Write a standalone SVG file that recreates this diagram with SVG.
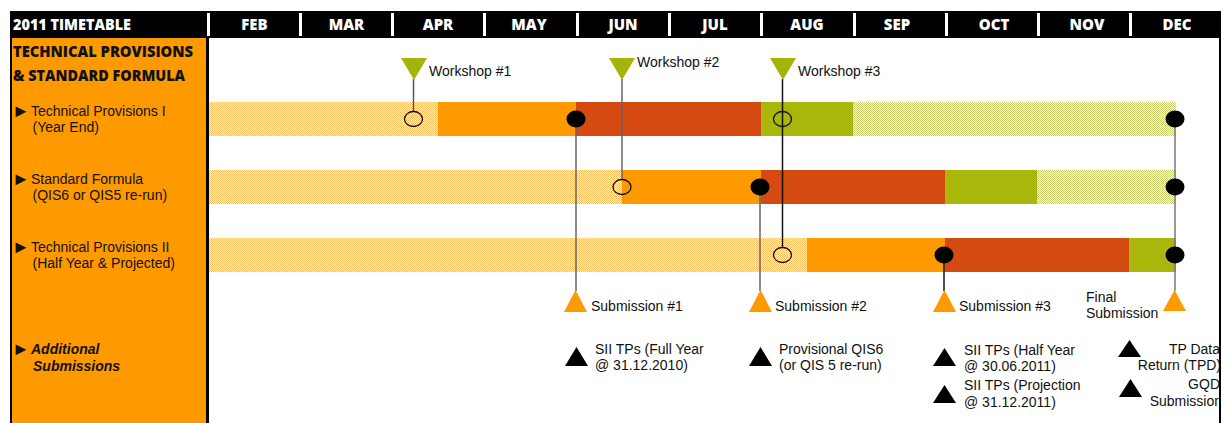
<svg xmlns="http://www.w3.org/2000/svg" width="1221" height="423" viewBox="0 0 1221 423">
<style>
.hd{font-family:"Open Sans","Liberation Sans",sans-serif;font-weight:800;font-size:15px;fill:#fff}
.mo{text-anchor:middle}
.ttl{font-family:"Open Sans","Liberation Sans",sans-serif;font-weight:800;font-size:16px;fill:#111}
.lb{font-family:"Liberation Sans",Arial,sans-serif;font-size:14px;fill:#111}
.bi{font-weight:700;font-style:italic}
.ar{font-family:"Liberation Sans","Noto Sans CJK SC",sans-serif;font-size:18px;fill:#111}
.end{text-anchor:end}
.o{fill:#FF9900}.r{fill:#D54A11}.g{fill:#A9B70B}
.ho{fill:url(#hatchO)}.hg{fill:url(#hatchG)}
.sep{fill:#fff}
.ln{stroke-width:1.5;fill:none}
.open{fill:none;stroke:#111;stroke-width:1.3}
.dot{fill:#000}
.wt{fill:#A5B40B}
.st{fill:#FF9900}
.bt{fill:#000}
</style>
<defs>
<pattern id="hatchO" patternUnits="userSpaceOnUse" x="0" y="0" width="2" height="2">
<rect width="2" height="2" fill="#fff"/><rect width="1" height="1" fill="#FFB95A"/><rect x="1" y="1" width="1" height="1" fill="#FFB95A"/>
</pattern>
<pattern id="hatchG" patternUnits="userSpaceOnUse" x="0" y="0" width="2" height="2">
<rect width="2" height="2" fill="#fff"/><rect width="1" height="1" fill="#C9D268"/><rect x="1" y="1" width="1" height="1" fill="#C9D268"/>
</pattern>
</defs>
<rect width="1221" height="423" fill="#fff"/>

<g id="header">
<rect x="10" y="11" width="1211" height="27" fill="#000"/>
<rect class="sep" x="207" y="13" width="3" height="23"/>
<rect class="sep" x="299" y="13" width="3" height="23"/>
<rect class="sep" x="391" y="13" width="3" height="23"/>
<rect class="sep" x="483" y="13" width="3" height="23"/>
<rect class="sep" x="576" y="13" width="3" height="23"/>
<rect class="sep" x="668" y="13" width="3" height="23"/>
<rect class="sep" x="760" y="13" width="3" height="23"/>
<rect class="sep" x="853" y="13" width="3" height="23"/>
<rect class="sep" x="945" y="13" width="3" height="23"/>
<rect class="sep" x="1037" y="13" width="3" height="23"/>
<rect class="sep" x="1129" y="13" width="3" height="23"/>
<text class="hd" x="13" y="30" textLength="118" lengthAdjust="spacingAndGlyphs">2011 TIMETABLE</text>
<text class="hd mo" x="254.5" y="30">FEB</text>
<text class="hd mo" x="346.5" y="30">MAR</text>
<text class="hd mo" x="438" y="30">APR</text>
<text class="hd mo" x="529" y="30">MAY</text>
<text class="hd mo" x="623" y="30">JUN</text>
<text class="hd mo" x="715" y="30">JUL</text>
<text class="hd mo" x="807" y="30">AUG</text>
<text class="hd mo" x="897" y="30">SEP</text>
<text class="hd mo" x="994" y="30">OCT</text>
<text class="hd mo" x="1087" y="30">NOV</text>
<text class="hd mo" x="1177" y="30">DEC</text>
</g>

<g id="left-panel">
<rect x="12" y="38" width="194" height="385" fill="#FF9900"/>
<rect x="10" y="11" width="2" height="412" fill="#000"/>
<rect x="206" y="38" width="3" height="385" fill="#000"/>
<text class="ttl" x="13" y="57" textLength="180" lengthAdjust="spacingAndGlyphs">TECHNICAL PROVISIONS</text>
<text class="ttl" x="13" y="80.5" textLength="172" lengthAdjust="spacingAndGlyphs">&amp; STANDARD FORMULA</text>
</g>

<g id="row-tp1">
<text class="ar" x="12" y="117">►</text>
<text class="lb" x="31" y="116">Technical Provisions I</text>
<text class="lb" x="32.5" y="132">(Year End)</text>
<rect class="ho" x="209" y="102" width="229" height="34"/>
<rect class="o" x="438" y="102" width="138" height="34"/>
<rect class="r" x="576" y="102" width="185" height="34"/>
<rect class="g" x="761" y="102" width="92" height="34"/>
<rect class="hg" x="853" y="102" width="323" height="34"/>
</g>

<g id="row-sf">
<text class="ar" x="12" y="185">►</text>
<text class="lb" x="31" y="184">Standard Formula</text>
<text class="lb" x="32.5" y="200">(QIS6 or QIS5 re-run)</text>
<rect class="ho" x="209" y="170" width="413" height="34"/>
<rect class="o" x="622" y="170" width="139" height="34"/>
<rect class="r" x="761" y="170" width="184" height="34"/>
<rect class="g" x="945" y="170" width="92" height="34"/>
<rect class="hg" x="1037" y="170" width="139" height="34"/>
</g>

<g id="row-tp2">
<text class="ar" x="12" y="253">►</text>
<text class="lb" x="31" y="252">Technical Provisions II</text>
<text class="lb" x="32.5" y="268">(Half Year &amp; Projected)</text>
<rect class="ho" x="209" y="238" width="598" height="34"/>
<rect class="o" x="807" y="238" width="138" height="34"/>
<rect class="r" x="945" y="238" width="184" height="34"/>
<rect class="g" x="1129" y="238" width="47" height="34"/>
</g>

<g id="row-additional">
<text class="ar" x="12" y="355">►</text>
<text class="lb bi" x="31" y="354">Additional</text>
<text class="lb bi" x="33" y="371">Submissions</text>
</g>

<g id="connectors">
<line class="ln" x1="413.5" y1="79" x2="413.5" y2="111.5" stroke="#555"/>
<line class="ln" x1="622" y1="79" x2="622" y2="179.5" stroke="#666"/>
<line class="ln" x1="782.5" y1="79" x2="782.5" y2="247.5" stroke="#111"/>
<line class="ln" x1="576" y1="119" x2="576" y2="291" stroke="#666"/>
<line class="ln" x1="760" y1="187" x2="760" y2="291" stroke="#666"/>
<line class="ln" x1="944" y1="255" x2="944" y2="291" stroke="#111"/>
<line class="ln" x1="1175" y1="119" x2="1175" y2="291" stroke="#777"/>
</g>

<g id="ws1">
<polygon class="wt" points="401,58 427,58 414,80"/>
<ellipse class="open" cx="413.5" cy="119" rx="9" ry="7.5"/>
<text class="lb" x="429" y="76">Workshop #1</text>
</g>
<g id="ws2">
<polygon class="wt" points="609,58 635,58 622,80"/>
<ellipse class="open" cx="622" cy="187" rx="9" ry="7.5"/>
<text class="lb" x="637" y="67">Workshop #2</text>
</g>
<g id="ws3">
<polygon class="wt" points="770,58 796,58 783,80"/>
<ellipse class="open" cx="782.5" cy="119" rx="9" ry="7.5"/>
<ellipse class="open" cx="782.5" cy="255" rx="9" ry="7.5"/>
<text class="lb" x="798" y="76">Workshop #3</text>
</g>

<g id="sub1">
<ellipse class="dot" cx="576" cy="119" rx="9.5" ry="8.5"/>
<polygon class="st" points="564,312 587,312 575.5,290"/>
<text class="lb" x="591" y="311">Submission #1</text>
</g>
<g id="sub2">
<ellipse class="dot" cx="760" cy="187" rx="9.5" ry="8.5"/>
<polygon class="st" points="749,312 772,312 760.5,290"/>
<text class="lb" x="775" y="311">Submission #2</text>
</g>
<g id="sub3">
<ellipse class="dot" cx="944" cy="255" rx="9.5" ry="8.5"/>
<polygon class="st" points="933,312 956,312 944.5,290"/>
<text class="lb" x="959" y="311">Submission #3</text>
</g>
<g id="final">
<ellipse class="dot" cx="1175" cy="119" rx="9.5" ry="8.5"/>
<ellipse class="dot" cx="1175" cy="187" rx="9.5" ry="8.5"/>
<ellipse class="dot" cx="1175" cy="255" rx="9.5" ry="8.5"/>
<polygon class="st" points="1163,311 1186,311 1174.5,290"/>
<text class="lb" x="1086" y="302">Final</text>
<text class="lb" x="1086" y="318">Submission</text>
</g>

<g id="add1">
<polygon class="bt" points="565,366 588,366 576.5,347"/>
<text class="lb" x="595" y="354">SII TPs (Full Year</text>
<text class="lb" x="595" y="370">@ 31.12.2010)</text>
</g>
<g id="add2">
<polygon class="bt" points="749,366 772,366 760.5,347"/>
<text class="lb" x="779" y="354">Provisional QIS6</text>
<text class="lb" x="779" y="370">(or QIS 5 re-run)</text>
</g>
<g id="add3">
<polygon class="bt" points="933,366 956,366 944.5,348"/>
<text class="lb" x="964" y="355">SII TPs (Half Year</text>
<text class="lb" x="964" y="371">@ 30.06.2011)</text>
</g>
<g id="add4">
<polygon class="bt" points="933,403 956,403 944.5,385"/>
<text class="lb" x="964" y="390">SII TPs (Projection</text>
<text class="lb" x="964" y="407">@ 31.12.2011)</text>
</g>
<g id="add5">
<polygon class="bt" points="1118,357 1141,357 1129.5,340"/>
<text class="lb end" x="1220" y="354">TP Data</text>
<text class="lb end" x="1221" y="370">Return (TPD)</text>
</g>
<g id="add6">
<polygon class="bt" points="1119,397 1142,397 1130.5,379"/>
<text class="lb end" x="1220" y="389">GQD</text>
<text class="lb end" x="1222" y="406">Submission</text>
</g>

<rect id="right-border" x="1219" y="38" width="2" height="385" fill="#000"/>
</svg>
